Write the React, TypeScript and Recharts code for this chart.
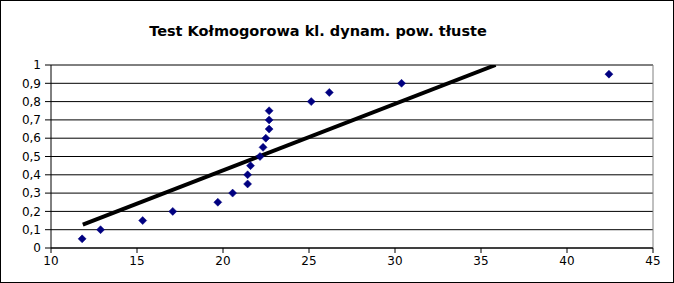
import React from 'react';
import {
  ScatterChart,
  Scatter,
  XAxis,
  YAxis,
  CartesianGrid,
  ReferenceLine,
} from 'recharts';

const title = 'Test Kołmogorowa kl. dynam. pow. tłuste';

const empiricalX = [11.81, 12.88, 15.33, 17.08, 19.7, 20.56, 21.43, 21.43, 21.6, 22.15, 22.33, 22.49, 22.68, 22.68, 22.68, 25.13, 26.18, 30.38, 42.44];
const empiricalY = [0.05, 0.1, 0.15, 0.2, 0.25, 0.3, 0.35, 0.4, 0.45, 0.5, 0.55, 0.6, 0.65, 0.7, 0.75, 0.8, 0.85, 0.9, 0.95];

const theoreticalX = [11.85, 35.85];
const theoreticalY = [0.128, 1.0];

const xTicks = [10, 15, 20, 25, 30, 35, 40, 45];
const yTicks = [0, 0.1, 0.2, 0.3, 0.4, 0.5, 0.6, 0.7, 0.8, 0.9, 1];

const pointData = empiricalX.map((x, i) => ({ x, y: empiricalY[i] }));
const lineData = theoreticalX.map((x, i) => ({ x, y: theoreticalY[i] }));

const FONT = '"DejaVu Sans", Verdana, sans-serif';

const Diamond = (props: any) => {
  const { cx, cy } = props;
  if (cx == null || cy == null) return null;
  const r = 4;
  return (
    <polygon
      points={`${cx},${cy - r} ${cx + r},${cy} ${cx},${cy + r} ${cx - r},${cy}`}
      fill="#000080"
      stroke="#000080"
      strokeWidth={0.5}
    />
  );
};

const NoShape = () => null;

export default function App() {
  return (
    <div
      style={{
        position: 'fixed',
        left: 0,
        top: 0,
        width: 674,
        height: 283,
        background: '#fff',
        boxSizing: 'border-box',
        fontFamily: FONT,
      }}
    >
      <ScatterChart
        width={674}
        height={283}
        margin={{ top: 65, right: 21, bottom: 5, left: 0 }}
      >
        <CartesianGrid
          horizontal={true}
          vertical={false}
          stroke="#000"
          strokeWidth={1}
        />
        <XAxis
          type="number"
          dataKey="x"
          domain={[10, 45]}
          ticks={xTicks}
          interval={0}
          allowDataOverflow
          stroke="#000"
          tickSize={5}
          tickMargin={3}
          height={30}
          tick={{ fill: '#000', fontSize: 12, fontFamily: FONT }}
        />
        <YAxis
          type="number"
          dataKey="y"
          domain={[0, 1]}
          ticks={yTicks}
          interval={0}
          allowDataOverflow
          stroke="#000"
          width={51}
          tickSize={6}
          tickMargin={4}
          tickFormatter={(v: number) => String(v).replace('.', ',')}
          tick={{ fill: '#000', fontSize: 12, fontFamily: FONT }}
        />
        <ReferenceLine x={45} stroke="#808080" strokeWidth={1} />
        <Scatter
          data={lineData}
          line={{ stroke: '#000', strokeWidth: 4 }}
          shape={NoShape}
          isAnimationActive={false}
        />
        <Scatter
          data={pointData}
          shape={Diamond}
          isAnimationActive={false}
        />
      </ScatterChart>
      <div
        style={{
          position: 'absolute',
          left: 0,
          top: 21,
          width: 636,
          textAlign: 'center',
          fontSize: 14.5,
          fontWeight: 'bold',
          fontFamily: FONT,
          color: '#000',
          lineHeight: '20px',
        }}
      >
        {title}
      </div>
      <div
        style={{
          position: 'absolute',
          left: 0,
          top: 0,
          width: 674,
          height: 283,
          border: '1px solid #000',
          boxSizing: 'border-box',
          pointerEvents: 'none',
        }}
      />
    </div>
  );
}
